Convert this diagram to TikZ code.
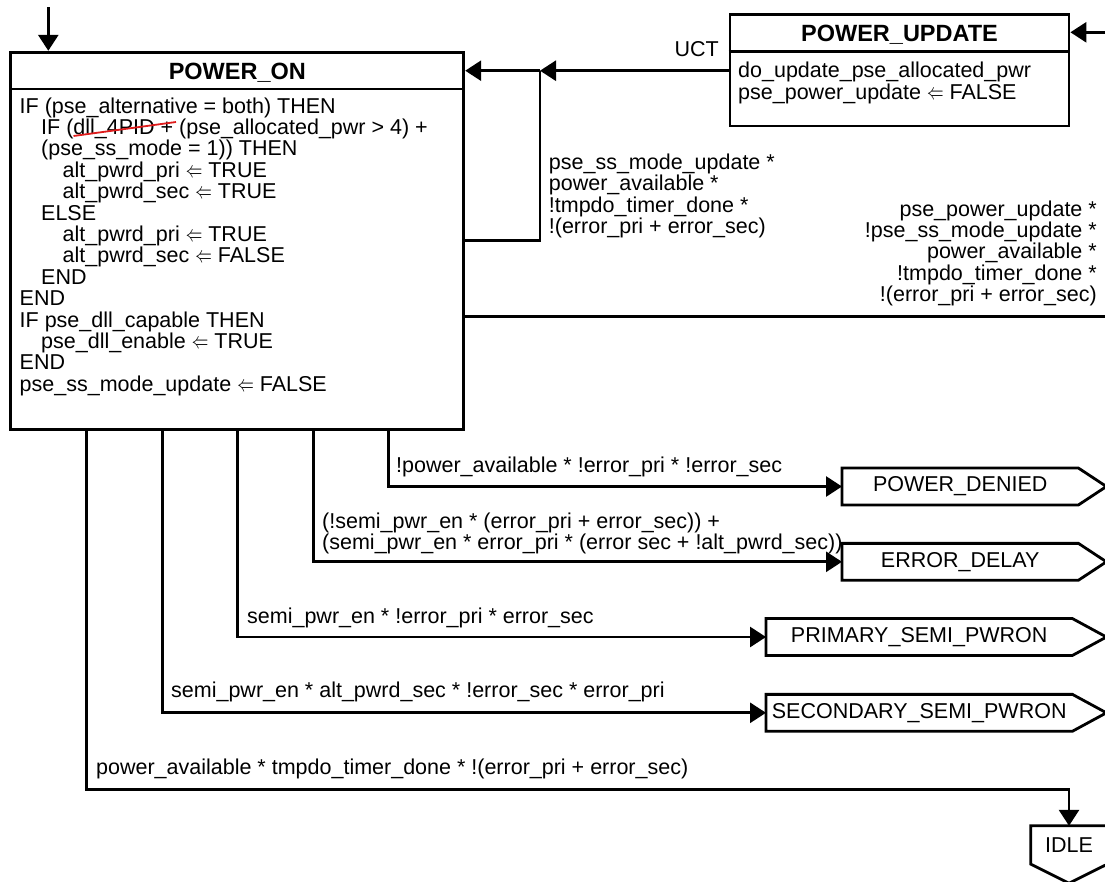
\documentclass[tikz,border=0pt]{standalone}
\usepackage{fontspec}
\setmainfont{Liberation Sans}
\usepackage{graphicx}
\usepackage{xcolor}
\usepackage{tikz}
\usetikzlibrary{positioning, arrows.meta, calc}

\definecolor{strikered}{RGB}{222,28,28}
\newcommand{\getsto}{\scalebox{0.8}[1.1]{$\Leftarrow$}}
\newcommand{\tb}{\hspace*{21.5pt}}

\begin{document}
\begin{tikzpicture}[
    x=1pt, y=1pt,
    >={Triangle[length=16pt, width=20pt]},
    every node/.style={font=\fontsize{21.5}{21.4}\selectfont, inner sep=0pt},
    statebox/.style={draw, line width=2.8pt},
    titletext/.style={font=\fontsize{23.5}{26}\selectfont\bfseries, text height=17pt, text depth=0pt},
    actions/.style={align=left, anchor=north west},
    exitstate/.style={minimum height=36.5pt, anchor=west},
    condtext/.style={anchor=base west},
    condblock/.style={align=left, anchor=north west},
    line/.style={line width=2.8pt},
    arr/.style={->, line width=2.8pt},
    strike/.style={draw=strikered, line width=1.8pt},
]

\useasboundingbox (0,0) rectangle (1105,-881);

% ---- POWER_ON ----
\coordinate (entry) at (48.3,-7);
\node[statebox, minimum width=453pt, minimum height=377pt] (pon) at (237.3,-240.7) {};
\node[titletext] (pontitle) at (237.3,-70.7) {POWER\_ON};
\draw[line] (pon.west |- 0,-89) -- (pon.east |- 0,-89);
\node[actions] (ponbody) at (19.5,-97.3) {%
IF (pse\_alternative = both) THEN\\
\tb IF (dll\_4PID + (pse\_allocated\_pwr > 4) +\\
\tb (pse\_ss\_mode = 1)) THEN\\
\tb\tb alt\_pwrd\_pri \getsto{} TRUE\\
\tb\tb alt\_pwrd\_sec \getsto{} TRUE\\
\tb ELSE\\
\tb\tb alt\_pwrd\_pri \getsto{} TRUE\\
\tb\tb alt\_pwrd\_sec \getsto{} FALSE\\
\tb END\\
END\\
IF pse\_dll\_capable THEN\\
\tb pse\_dll\_enable \getsto{} TRUE\\
END\\
pse\_ss\_mode\_update \getsto{} FALSE};
\draw[strike] (73.5,-136) -- (176,-122);
\draw[arr] (entry) -- (entry |- pon.north);

% ---- POWER_UPDATE ----
\node[statebox, minimum width=339pt, minimum height=111.7pt] (pupd) at (899.5,-70.2) {};
\node[titletext] (pupdtitle) at (899.5,-33) {POWER\_UPDATE};
\draw[line] (pupd.west |- 0,-51.7) -- (pupd.east |- 0,-51.7);
\node[actions] (pupdbody) at (738,-61.9) {do\_update\_pse\_allocated\_pwr\\
pse\_power\_update \getsto{} FALSE};
\node[anchor=base east] (uct) at (719,-56.7) {UCT};

% ---- back into POWER_ON ----
\coordinate (jn) at (540,-70.7);
\draw[arr] (pupd.west |- jn) -- (jn);
\draw[arr] (jn) -- (pon.east |- jn);
\draw[line] (pon.east) -| (jn);
\node[condblock] (condstay) at (548.7,-153.6) {pse\_ss\_mode\_update *\\
power\_available *\\
!tmpdo\_timer\_done *\\
!(error\_pri + error\_sec)};

% ---- over to POWER_UPDATE ----
\coordinate (outR) at (1105,-316.7);
\coordinate (inR) at (1105,-32.3);
\draw[line] (pon.east |- outR) -- (outR);
\draw[arr] (inR) -- (pupd.east |- inR);
\node[condblock, align=right, anchor=north east] (condupd) at (1097,-200.4) {pse\_power\_update *\\
!pse\_ss\_mode\_update *\\
power\_available *\\
!tmpdo\_timer\_done *\\
!(error\_pri + error\_sec)};

% ---- exit states ----
\node[exitstate, minimum width=236pt] (pdenied) at (842,-486.5) {POWER\_DENIED};
\node[exitstate, minimum width=236pt] (errdelay) at (842,-561.8) {ERROR\_DELAY};
\node[exitstate, minimum width=306pt] (prisemi) at (766,-637) {PRIMARY\_SEMI\_PWRON};
\node[exitstate, minimum width=306pt] (secsemi) at (766,-712.8) {SECONDARY\_SEMI\_PWRON};
\foreach \n/\d in {pdenied/28, errdelay/28, prisemi/34, secsemi/34}
  \draw[line] (\n.north west) -- (\n.north east) -- ([xshift=\d pt]\n.east)
    -- (\n.south east) -- (\n.south west) -- cycle;

\node[minimum width=76pt, minimum height=38pt] (idle) at (1069,-845) {IDLE};
\draw[line] (idle.north west) -- (idle.north east) -- (idle.south east)
  -- ([yshift=-19pt]idle.south) -- (idle.south west) -- cycle;

% ---- exits from POWER_ON ----
\draw[arr] (388.3,0 |- pon.south) |- (pdenied.west);
\draw[arr] (313.3,0 |- pon.south) |- (errdelay.west);
\draw[arr] (237.3,0 |- pon.south) |- (prisemi.west);
\draw[arr] (162.3,0 |- pon.south) |- (secsemi.west);
\draw[arr] (86.7,0 |- pon.south) -- ++(0,-358.7) -| (idle.north);

\node[condtext] (conddenied) at (396,-472) {!power\_available * !error\_pri * !error\_sec};
\node[condblock] (conderr) at (322,-512.3) {(!semi\_pwr\_en * (error\_pri + error\_sec)) +\\
(semi\_pwr\_en * error\_pri * (error sec + !alt\_pwrd\_sec))};
\node[condtext] (condpri) at (247,-623) {semi\_pwr\_en * !error\_pri * error\_sec};
\node[condtext] (condsec) at (171,-697) {semi\_pwr\_en * alt\_pwrd\_sec * !error\_sec * error\_pri};
\node[condtext] (condidle) at (96,-774) {power\_available * tmpdo\_timer\_done * !(error\_pri + error\_sec)};

\end{tikzpicture}
\end{document}
